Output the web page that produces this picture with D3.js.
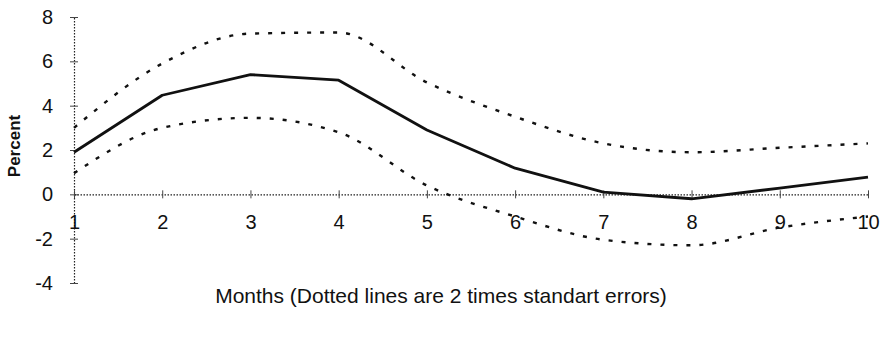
<!DOCTYPE html>
<html>
<head>
<meta charset="utf-8">
<script src="https://cdn.jsdelivr.net/npm/d3@7"></script>
<style>
  html, body { margin: 0; padding: 0; background: #fff; }
  svg { display: block; }
  text { font-family: "Liberation Sans", Arial, sans-serif; fill: #111; }
</style>
</head>
<body>
<svg id="chart" width="886" height="338"></svg>
<script>
// ---- data ----
const months = [1, 2, 3, 4, 5, 6, 7, 8, 9, 10];
const response = [1.9, 4.47, 5.4, 5.15, 2.9, 1.18, 0.1, -0.2, 0.28, 0.78];
const upperBand = [3.0, 5.9, 7.25, 7.3, 5.05, 3.5, 2.3, 1.9, 2.1, 2.3];
const lowerBand = [0.95, 3.0, 3.45, 2.8, 0.4, -1.0, -2.05, -2.3, -1.5, -1.0];
const yTicks = [-4, -2, 0, 2, 4, 6, 8];
const xTicks = [1, 2, 3, 4, 5, 6, 7, 8, 9, 10];
const yTitle = "Percent";
const xTitle = "Months (Dotted lines are 2 times standart errors)";

const svg = d3.select("#chart");
const x = d3.scaleLinear().domain([1, 10]).range([74, 868]);
const y = d3.scaleLinear().domain([-4, 8]).range([283, 17]);
const fmt = d => String(d); // plain hyphen minus as in the reference

// y axis (dotted vertical line at x=1)
const yAxis = d3.axisLeft(y).tickValues(yTicks).tickSize(0).tickPadding(21).tickFormat(fmt);
const gy = svg.append("g").attr("transform", `translate(${x(1)},0)`).call(yAxis);
gy.select(".domain").attr("stroke", "#222").attr("stroke-width", 1.2).attr("stroke-dasharray", "1.5,1.5");
gy.selectAll(".tick text").attr("font-size", 20).attr("fill", "#111");
gy.selectAll(".tick").append("line").attr("x1", -4).attr("x2", 4).attr("stroke", "#444").attr("stroke-width", 1);

// x axis along y=0
const xAxis = d3.axisBottom(x).tickValues(xTicks).tickSize(0).tickPadding(20).tickFormat(fmt);
const gx = svg.append("g").attr("transform", `translate(0,${y(0)})`).call(xAxis);
gx.select(".domain").attr("stroke", "#222").attr("stroke-width", 1.2).attr("stroke-dasharray", "1.5,1.5");
gx.selectAll(".tick text").attr("font-size", 20).attr("fill", "#111");
gx.selectAll(".tick").append("line").attr("y1", -4).attr("y2", 4).attr("stroke", "#444").attr("stroke-width", 1);

// lines
const lineSmooth = d3.line().x((d, i) => x(months[i])).y(d => y(d)).curve(d3.curveMonotoneX);
const lineStraight = d3.line().x((d, i) => x(months[i])).y(d => y(d));

svg.append("path").datum(upperBand).attr("d", lineSmooth)
  .attr("fill", "none").attr("stroke", "#111").attr("stroke-width", 2.4).attr("stroke-dasharray", "4,9");
svg.append("path").datum(lowerBand).attr("d", lineSmooth)
  .attr("fill", "none").attr("stroke", "#111").attr("stroke-width", 2.4).attr("stroke-dasharray", "4,9");
svg.append("path").datum(response).attr("d", lineStraight)
  .attr("fill", "none").attr("stroke", "#111").attr("stroke-width", 2.8).attr("stroke-linejoin", "round");

// titles
svg.append("text").attr("transform", `translate(20,146) rotate(-90)`)
  .attr("text-anchor", "middle").attr("font-size", 17).attr("font-weight", "bold").text(yTitle);
svg.append("text").attr("x", 441).attr("y", 303).attr("text-anchor", "middle")
  .attr("font-size", 21).text(xTitle);
</script>
</body>
</html>
